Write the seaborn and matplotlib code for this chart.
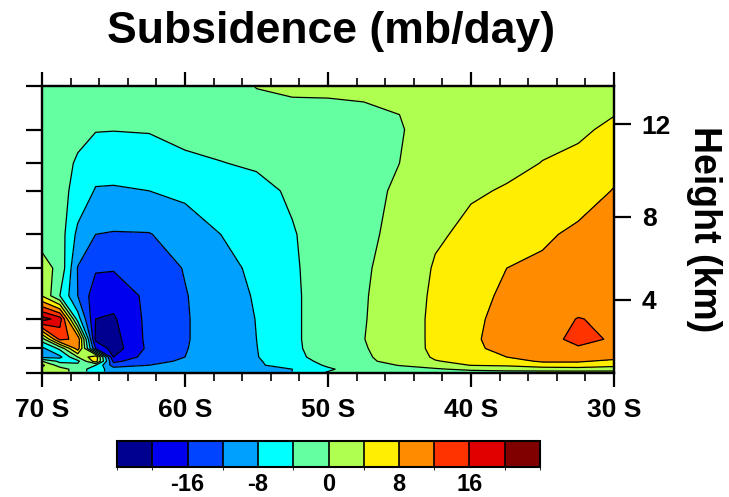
import numpy as np
import matplotlib
matplotlib.use("Agg")
import matplotlib.pyplot as plt
import seaborn as sns
from matplotlib.colors import ListedColormap, BoundaryNorm
from matplotlib.cm import ScalarMappable
from matplotlib.ticker import FixedLocator, NullLocator, MultipleLocator, FixedFormatter

sns.set_style("ticks")
plt.rcParams['font.family'] = ['Liberation Sans', 'DejaVu Sans']
plt.rcParams['font.weight'] = 'bold'
plt.rcParams['axes.unicode_minus'] = False
plt.rcParams['text.color'] = 'black'
plt.rcParams['axes.labelcolor'] = 'black'
plt.rcParams['xtick.color'] = 'black'
plt.rcParams['ytick.color'] = 'black'
plt.rcParams['axes.edgecolor'] = 'black'

nan = np.nan

# ---------------- data ----------------
lats = [-70, -68.75, -67.5, -66.25, -65, -62.5, -60, -57.5, -55, -52.5,
        -50, -47.5, -45, -42.5, -40, -37.5, -35, -32.5, -30]
pressure = [150, 200, 250, 300, 400, 500, 600, 700, 800, 850, 900, 925, 950, 975, 990, 1000]

# subsidence (mb/day), one profile per latitude, from 150 mb down to 1000 mb
profiles = [
    [-2, -2, -2, -2, -1.5, 1.5, 3.8, 22, -2, -9, -9, 0, 5, 3, 3, nan],
    [-2, -2.5, -2.5, -2.5, -2, -1, -4, 18, 13, -3, -9, -5, -2, 2, 2, nan],
    [-2.5, -3, -4.5, -5.5, -9, -12.2, -12, -6, 11, 10, 0, -5, -3, -2, -2, nan],
    [-3, -3.8, -6.5, -8.3, -12, -15.5, -18.5, -20, -21, -16, 7, 6, -4, -6, -6, nan],
    [-3.5, -3.9, -6.2, -8.5, -12.3, -15.7, -18.5, -20.5, -21.5, -22, -20, -17, -14, -10, -10, nan],
    [-2.5, -3.7, -6.5, -8, -12.2, -14, -15, -14.8, -14.8, -15, -14, -13, -12, -10, -10, nan],
    [-2, -3.3, -4.5, -7.3, -10, -11.8, -12.2, -12.3, -12.3, -12.2, -12, -11.5, -10.5, -9, -9, nan],
    [-1.5, -2.8, -4.1, -5.5, -8, -9.5, -10, -10.2, -10.2, -10, -9.8, -9.5, -9, -8.5, -8.5, nan],
    [0.1, -1.8, -3.6, -5, -6, -7, -7.6, -7.9, -8.0, -8.1, -8.2, -8.5, -8.5, -8, -8, nan],
    [0.3, -1.0, -2.2, -3.5, -4.3, -4.5, -4.6, -4.6, -4.6, -4.7, -5, -5.5, -6.5, -8, -8, nan],
    [0.3, -0.9, -1.2, -1.5, -2, -2.2, -2.3, -2.3, -2.3, -2.3, -2.5, -3, -3.5, -4.5, -4, -3.5],
    [0.3, -0.6, -0.5, -0.4, -0.4, -0.3, -0.2, -0.15, -0.05, -0.2, -0.4, -0.6, -1.2, -2, -2.5, -2.5],
    [0.5, -0.3, 0, 0.2, 0.5, 1.0, 1.3, 1.5, 1.5, 1.4, 1.2, 1.0, 0.1, -1, -1.5, -1.5],
    [1.5, 1.8, 2.2, 2.6, 3.5, 4.4, 4.8, 5, 5, 5, 4.5, 3.8, 2, -0.5, -1.5, -1.5],
    [2, 2.5, 3.2, 3.7, 4.8, 5.5, 6.2, 6.8, 7.2, 7.0, 6.0, 5, 4.1, 1, -1, -1.5],
    [2.5, 3.0, 3.5, 4.2, 6.2, 8, 9, 9.8, 10, 9.5, 8.0, 6.5, 4.5, 1.5, -0.5, -1],
    [3, 3.5, 4.05, 4.8, 7.2, 9, 10, 10.8, 11.3, 11.2, 10.0, 8.5, 6, 2, -0.5, -1],
    [3.2, 3.75, 4.4, 6, 9, 10, 10.8, 12.1, 12.5, 11.8, 10, 8.5, 6, 2.5, -0.5, -1],
    [3.4, 4.3, 6.8, 8.2, 10, 10.8, 11.3, 11.5, 11.8, 11.5, 9.5, 7, 5, 2, -0.5, -1],
]

levels = [-20, -16, -12, -8, -4, 0, 4, 8, 12, 16, 20]
colors = ["#000090", "#0000EE", "#0044FF", "#00A0FF", "#00FFFF", "#64FFA0",
          "#AFFF50", "#FFEE00", "#FF8C00", "#FF3300", "#E00000", "#800000"]
cbar_bounds = [-24, -20, -16, -12, -8, -4, 0, 4, 8, 12, 16, 20, 24]
cbar_ticks = [-16, -8, 0, 8, 16]

lat_ticks = [-70, -60, -50, -40, -30]
lat_labels = ["70 S", "60 S", "50 S", "40 S", "30 S"]
pres_ticks = [1000, 850, 700, 500, 400, 300, 250, 200, 150]
height_ticks = [4, 8, 12]
height_labels = ["4", "8", "12"]


def height_to_pressure(z_km):
    z = np.asarray(z_km, dtype=float) * 1000.0
    p_trop = 1013.25 * (1 - 2.25577e-5 * z) ** 5.25588
    p_strat = 226.32 * np.exp(-(z - 11000.0) / 6341.6)
    return np.where(z <= 11000.0, p_trop, p_strat)


W = np.ma.masked_invalid(np.array(profiles, dtype=float).T)

# ---------------- figure ----------------
FW, FH = 729, 497
fig = plt.figure(figsize=(FW / 100, FH / 100), dpi=100)
ax = fig.add_axes([42 / FW, 1 - 373 / FH, 572 / FW, 287 / FH])
ax.set_facecolor("white")

fill_levels = [-1000] + levels + [1000]
ax.contourf(lats, pressure, W, levels=fill_levels, colors=colors)
ax.contour(lats, pressure, W, levels=levels, colors="black", linewidths=0.9,
           linestyles="solid")

ax.set_yscale("log")
ax.set_ylim(1000, 150)
ax.set_xlim(-70, -30)

for s in ax.spines.values():
    s.set_linewidth(1.6)
    s.set_color("black")

ax.xaxis.set_major_locator(FixedLocator(lat_ticks))
ax.xaxis.set_major_formatter(FixedFormatter(lat_labels))
ax.xaxis.set_minor_locator(MultipleLocator(2))
ax.tick_params(axis="x", which="major", direction="out", length=10, width=1.6,
               top=True, bottom=True, labelsize=19, pad=8)
ax.tick_params(axis="x", which="minor", direction="out", length=5.5, width=1.2,
               top=True, bottom=True)

ax.yaxis.set_major_locator(FixedLocator(pres_ticks))
ax.yaxis.set_minor_locator(NullLocator())
ax.tick_params(axis="y", which="major", direction="out", length=11.5, width=1.6,
               left=True, right=False, labelleft=False)

ax2 = ax.twinx()
ax2.set_yscale("log")
ax2.set_ylim(1000, 150)
ax2.yaxis.set_major_locator(FixedLocator(list(height_to_pressure(height_ticks))))
ax2.yaxis.set_major_formatter(FixedFormatter(height_labels))
ax2.yaxis.set_minor_locator(NullLocator())
ax2.tick_params(axis="y", which="major", direction="out", length=12, width=1.6,
                labelsize=19, pad=8)
for s in ax2.spines.values():
    s.set_linewidth(1.6)
    s.set_color("black")
ax2.set_ylabel("Height (km)", fontsize=27, fontweight="bold", rotation=-90)
ax2.yaxis.set_label_coords((704 - 42) / 572, 0.5)
ax2.yaxis.label.set_va("center")
ax2.yaxis.label.set_ha("center")

fig.text(331 / FW, 1 - 32 / FH, "Subsidence (mb/day)", ha="center", va="center",
         fontsize=32, fontweight="bold")

# colorbar
cax = fig.add_axes([117 / FW, 1 - 467 / FH, 423 / FW, 26 / FH])
cmap = ListedColormap(colors)
norm = BoundaryNorm(cbar_bounds, cmap.N)
cb = fig.colorbar(ScalarMappable(norm=norm, cmap=cmap), cax=cax,
                  orientation="horizontal", ticks=cbar_ticks, drawedges=True)
cb.outline.set_linewidth(1.5)
cb.outline.set_edgecolor("black")
cb.dividers.set_linewidth(1.2)
cb.dividers.set_color("black")
cax.tick_params(length=0, labelsize=17, pad=4)

fig.savefig("out.png", dpi=100)
